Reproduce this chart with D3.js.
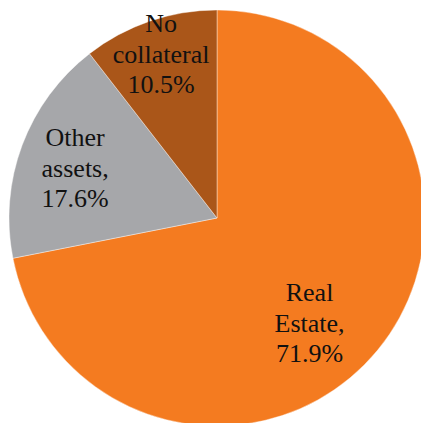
<!DOCTYPE html>
<html>
<head>
<meta charset="utf-8">
<script src="https://cdn.jsdelivr.net/npm/d3@7"></script>
<style>
  body { margin: 0; background: #fff; }
  svg { display: block; }
</style>
</head>
<body>
<svg id="chart" width="421" height="423">
  <g id="pie"></g>
  <g id="labels" font-family="Liberation Serif" font-size="26" fill="#111" text-anchor="middle"></g>
</svg>
<script>
// slice data, clockwise from 12 o'clock
var categories = ["Real Estate", "Other assets", "No collateral"];
var shares = [71.9, 17.6, 10.5];
var labelLines = [["Real", "Estate,", "71.9%"], ["Other", "assets,", "17.6%"], ["No", "collateral", "10.5%"]];
var colors = ["#f47b20", "#a6a7aa", "#aa5619"];

var cx = 217, cy = 218, radius = 208;

var svg = d3.select("#chart");
var g = svg.select("#pie")
    .attr("transform", "translate(" + cx + "," + cy + ")");
var lg = svg.select("#labels")
    .attr("transform", "translate(" + cx + "," + cy + ")");

var color = d3.scaleOrdinal()
    .domain(categories)
    .range(colors);

var pie = d3.pie()
    .sort(null)
    .value(function(d, i) { return shares[i]; });

var arcs = pie(categories);

var arc = d3.arc().innerRadius(0).outerRadius(radius);
var labelArc = d3.arc().innerRadius(radius * 0.8).outerRadius(radius * 0.8);

g.selectAll("path.slice")
  .data(arcs)
  .enter().append("path")
    .attr("class", "slice")
    .attr("d", arc)
    .attr("fill", function(d) { return color(d.data); })
    .attr("stroke", "#fff")
    .attr("stroke-width", 0.4);

// best-fit style nudges so the labels sit inside the slices like the original
var nudge = [[-36, 8], [14, 17], [-2, 2]];
var lineGap = 30.5;

labelLines.forEach(function(lines, i) {
  var c = labelArc.centroid(arcs[i]);
  lg.selectAll("text.lbl" + i)
    .data(lines)
    .enter().append("text")
      .attr("class", "lbl" + i)
      .attr("x", c[0] + nudge[i][0])
      .attr("y", function(d, j) { return c[1] + nudge[i][1] + (j - 1) * lineGap; })
      .text(function(d) { return d; });
});
</script>
</body>
</html>
